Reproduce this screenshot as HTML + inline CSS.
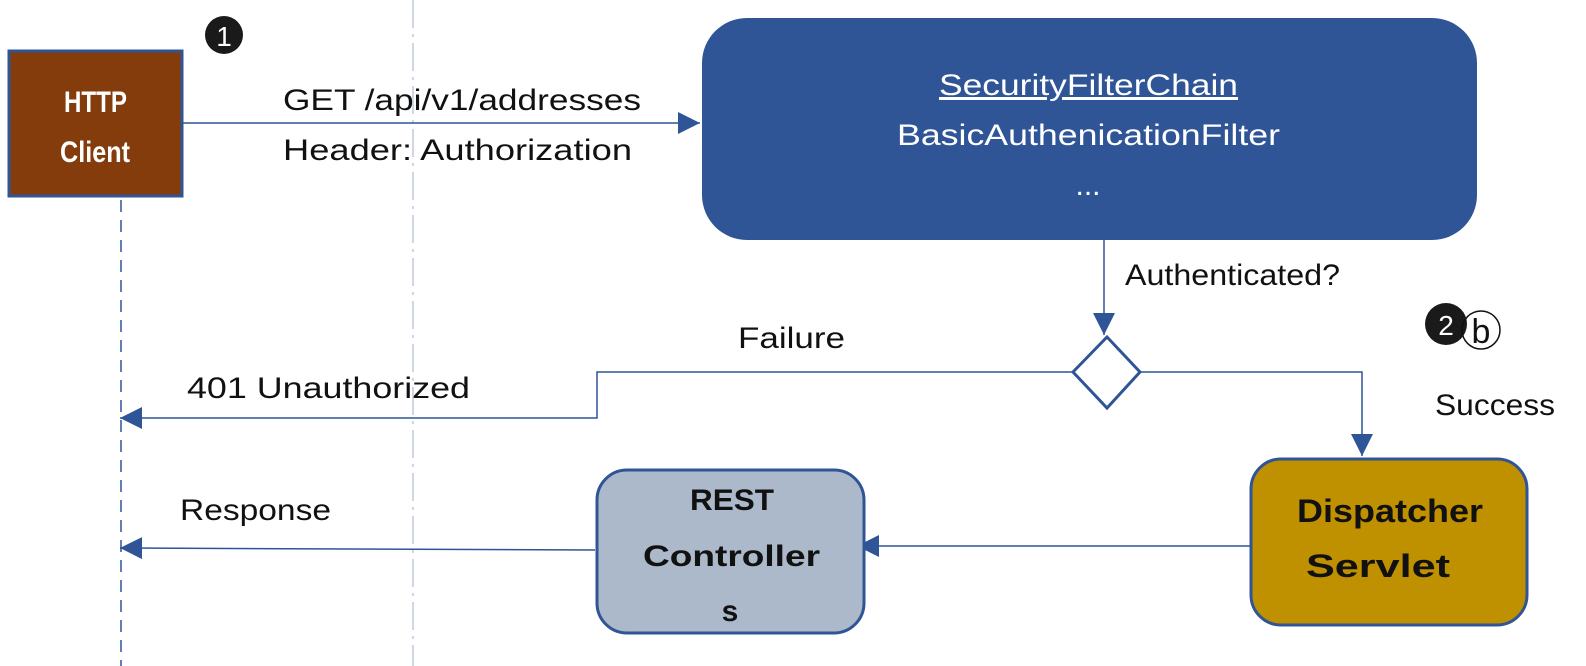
<!DOCTYPE html>
<html><head><meta charset="utf-8"><style>
html,body{margin:0;padding:0;background:#fff;}
svg{display:block;}
text{font-family:"Liberation Sans",sans-serif;}
</style></head><body>
<svg width="1586" height="666" viewBox="0 0 1586 666" xmlns="http://www.w3.org/2000/svg">
<defs>
<marker id="a" viewBox="0 0 10 10" refX="10" refY="5" markerWidth="22" markerHeight="22" markerUnits="userSpaceOnUse" orient="auto">
<path d="M0,0 L10,5 L0,10 Z" fill="#2f5597"/></marker>
</defs>
<line x1="413" y1="0" x2="413" y2="666" stroke="#d0d7e3" stroke-width="2" stroke-dasharray="28,6,3,6"/>
<line x1="121" y1="200" x2="121" y2="666" stroke="#2f5597" stroke-width="1.5" stroke-dasharray="12,8"/>
<rect x="9" y="51" width="173" height="145" fill="#843c0c" stroke="#2f5597" stroke-width="3"/>
<text x="64" y="112" font-size="30" font-weight="bold" fill="#fff" textLength="63" lengthAdjust="spacingAndGlyphs">HTTP</text>
<text x="60" y="162" font-size="30" font-weight="bold" fill="#fff" textLength="70" lengthAdjust="spacingAndGlyphs">Client</text>
<circle cx="224" cy="35" r="19" fill="#1a1a1a"/>
<text x="224" y="46" font-size="28" fill="#fff" text-anchor="middle">1</text>
<line x1="183" y1="123" x2="700" y2="123" stroke="#2f5597" stroke-width="1.5" marker-end="url(#a)"/>
<text x="283" y="110" font-size="30" fill="#111" textLength="358" lengthAdjust="spacingAndGlyphs">GET /api/v1/addresses</text>
<text x="283" y="160" font-size="30" fill="#111" textLength="349" lengthAdjust="spacingAndGlyphs">Header: Authorization</text>
<rect x="702" y="18" width="775" height="222" rx="45" fill="#2f5597"/>
<text x="939" y="95" font-size="30" fill="#fff" text-decoration="underline" textLength="299" lengthAdjust="spacingAndGlyphs">SecurityFilterChain</text>
<text x="897" y="145" font-size="30" fill="#fff" textLength="383" lengthAdjust="spacingAndGlyphs">BasicAuthenicationFilter</text>
<text x="1088" y="195" font-size="30" fill="#fff" text-anchor="middle">...</text>
<line x1="1104" y1="240" x2="1104" y2="335" stroke="#2f5597" stroke-width="1.5" marker-end="url(#a)"/>
<text x="1125" y="285" font-size="30" fill="#111" textLength="215" lengthAdjust="spacingAndGlyphs">Authenticated?</text>
<polygon points="1107,337 1140,372 1107,408 1073,372" fill="#fff" stroke="#2f5597" stroke-width="3"/>
<polyline points="1140,372 1362,372 1362,456" fill="none" stroke="#2f5597" stroke-width="1.5" marker-end="url(#a)"/>
<polyline points="1073,372 597,372 597,418 120,418" fill="none" stroke="#2f5597" stroke-width="1.5" marker-end="url(#a)"/>
<text x="738" y="348" font-size="30" fill="#111" textLength="107" lengthAdjust="spacingAndGlyphs">Failure</text>
<text x="187" y="398" font-size="30" fill="#111" textLength="283" lengthAdjust="spacingAndGlyphs">401 Unauthorized</text>
<circle cx="1446" cy="324" r="21" fill="#1a1a1a"/>
<text x="1446" y="335" font-size="28" fill="#fff" text-anchor="middle">2</text>
<circle cx="1481" cy="330" r="19" fill="none" stroke="#111" stroke-width="1.5"/>
<text x="1481" y="343" font-size="34" fill="#111" text-anchor="middle" font-family="Liberation Serif,serif">b</text>
<text x="1435" y="415" font-size="30" fill="#111" textLength="120" lengthAdjust="spacingAndGlyphs">Success</text>
<rect x="1251" y="459" width="276" height="166" rx="30" fill="#bf9000" stroke="#2f5597" stroke-width="3"/>
<text x="1297" y="522" font-size="32" font-weight="bold" fill="#111" textLength="186" lengthAdjust="spacingAndGlyphs">Dispatcher</text>
<text x="1306" y="577" font-size="32" font-weight="bold" fill="#111" textLength="144" lengthAdjust="spacingAndGlyphs">Servlet</text>
<line x1="1250" y1="546" x2="857" y2="546" stroke="#2f5597" stroke-width="1.5" marker-end="url(#a)"/>
<rect x="597" y="470" width="267" height="163" rx="30" fill="#acb9ca" stroke="#2f5597" stroke-width="3"/>
<text x="690" y="510" font-size="30" font-weight="bold" fill="#111" textLength="84" lengthAdjust="spacingAndGlyphs">REST</text>
<text x="643" y="566" font-size="30" font-weight="bold" fill="#111" textLength="177" lengthAdjust="spacingAndGlyphs">Controller</text>
<text x="730" y="621" font-size="30" font-weight="bold" fill="#111" text-anchor="middle">s</text>
<line x1="595" y1="550" x2="120" y2="548" stroke="#2f5597" stroke-width="1.5" marker-end="url(#a)"/>
<text x="180" y="520" font-size="30" fill="#111" textLength="151" lengthAdjust="spacingAndGlyphs">Response</text>
</svg>
</body></html>
